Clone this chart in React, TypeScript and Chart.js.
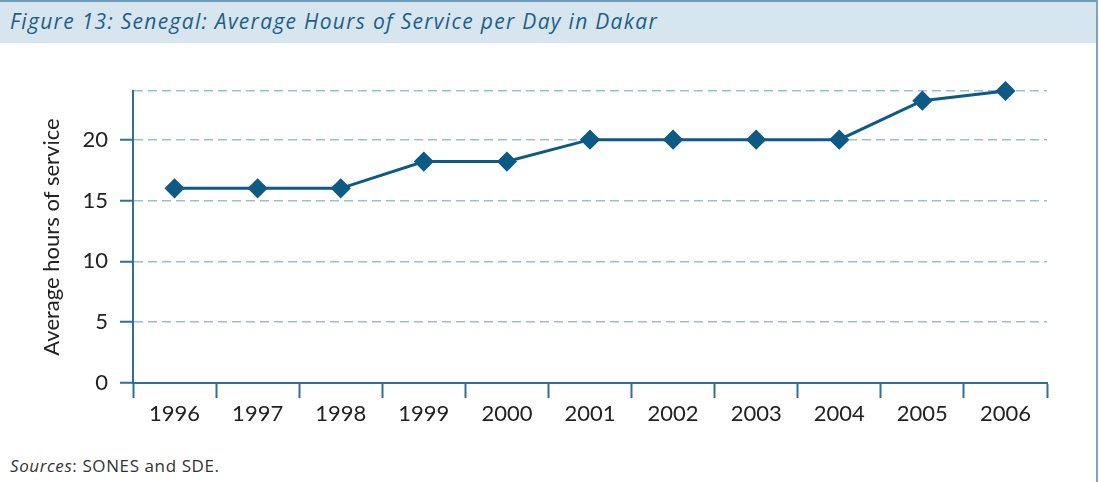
import React, { useEffect, useRef } from "react";
import { Chart, registerables } from "chart.js";

Chart.register(...registerables);

const years = ["1996", "1997", "1998", "1999", "2000", "2001", "2002", "2003", "2004", "2005", "2006"];
const hoursOfService = [16, 16, 16, 18.2, 18.2, 20, 20, 20, 20, 23.2, 24];
const yTickValues = [0, 5, 10, 15, 20];
const titleText = "Figure 13: Senegal: Average Hours of Service per Day in Dakar";
const yAxisTitle = "Average hours of service";

const FONT = "Lato, 'Open Sans', sans-serif";
const FONT2 = "'Open Sans', Lato, sans-serif";
const DARK = "#0d5a84";
const AXIS = "#2f6f98";
const GRID = "#9dbdd5";

export default function App() {
  const ref = useRef<HTMLCanvasElement | null>(null);
  useEffect(() => {
    document.body.style.margin = "0";
    const chart = new Chart(ref.current as HTMLCanvasElement, {
      type: "line",
      data: {
        labels: years,
        datasets: [
          {
            data: hoursOfService,
            borderColor: DARK,
            backgroundColor: DARK,
            borderWidth: 3,
            pointStyle: "rectRot",
            pointRadius: 8,
            pointHoverRadius: 8,
            pointBackgroundColor: DARK,
            pointBorderColor: DARK,
            tension: 0,
            clip: false,
          },
        ],
      },
      options: {
        animation: false,
        responsive: false,
        maintainAspectRatio: false,
        layout: { padding: { left: 0, right: 43, top: 47, bottom: 0 } },
        plugins: { legend: { display: false }, tooltip: { enabled: false }, title: { display: false } },
        scales: {
          x: {
            offset: true,
            grid: {
              display: true,
              offset: true,
              drawOnChartArea: false,
              drawTicks: true,
              tickLength: 15,
              tickColor: AXIS,
              tickWidth: 2,
            },
            border: { display: true, color: AXIS, width: 2 },
            ticks: { color: "#222", font: { family: FONT, size: 22 }, padding: 3, maxRotation: 0 },
            afterFit: (s: any) => {
              s.height = 51;
            },
          },
          y: {
            min: 0,
            max: 24,
            afterBuildTicks: (s: any) => {
              s.ticks = [...yTickValues, 24].map((v) => ({ value: v }));
            },
            grid: {
              color: GRID,
              lineWidth: 1.5,
              tickLength: 13,
              tickColor: (c: any) => (c.tick && c.tick.value === 24 ? "rgba(0,0,0,0)" : AXIS),
              tickWidth: 2,
              tickBorderDash: [],
            },
            border: { display: true, color: AXIS, width: 2, dash: [9, 5] },
            ticks: {
              color: "#222",
              font: { family: FONT, size: 22 },
              padding: 12,
              callback: (v: any) => (yTickValues.includes(Number(v)) ? String(v) : ""),
            },
            title: {
              display: true,
              text: yAxisTitle,
              color: "#222",
              font: { family: FONT, size: 22 },
              padding: { top: 39, bottom: 0 },
            },
            afterFit: (s: any) => {
              s.width = 133;
            },
          },
        },
      },
    });
    return () => chart.destroy();
  }, []);

  return (
    <div style={{ position: "relative", width: 1099, height: 482, background: "#fff", overflow: "hidden" }}>
      <div
        style={{
          position: "absolute",
          left: 0,
          top: 0,
          width: 1097,
          height: 41,
          background: "#d7e5ef",
          borderTop: "2px solid #6f9ab8",
        }}
      />
      <div
        style={{
          position: "absolute",
          left: 10,
          top: 8,
          fontFamily: FONT2,
          fontStyle: "italic",
          fontSize: 21,
          letterSpacing: "1.3px",
          color: "#1c5f8a",
          whiteSpace: "nowrap",
          lineHeight: "26px",
        }}
      >
        {titleText}
      </div>
      <div style={{ position: "absolute", left: 1096, top: 0, width: 2, height: 482, background: "#7aa5c1" }} />
      <canvas ref={ref} width={1090} height={390} style={{ position: "absolute", left: 0, top: 44 }} />
      <div
        style={{
          position: "absolute",
          left: 10,
          top: 454,
          fontFamily: FONT2,
          fontSize: 17,
          letterSpacing: "0.6px",
          color: "#333",
          whiteSpace: "nowrap",
        }}
      >
        <i>Sources</i>: SONES and SDE.
      </div>
    </div>
  );
}
